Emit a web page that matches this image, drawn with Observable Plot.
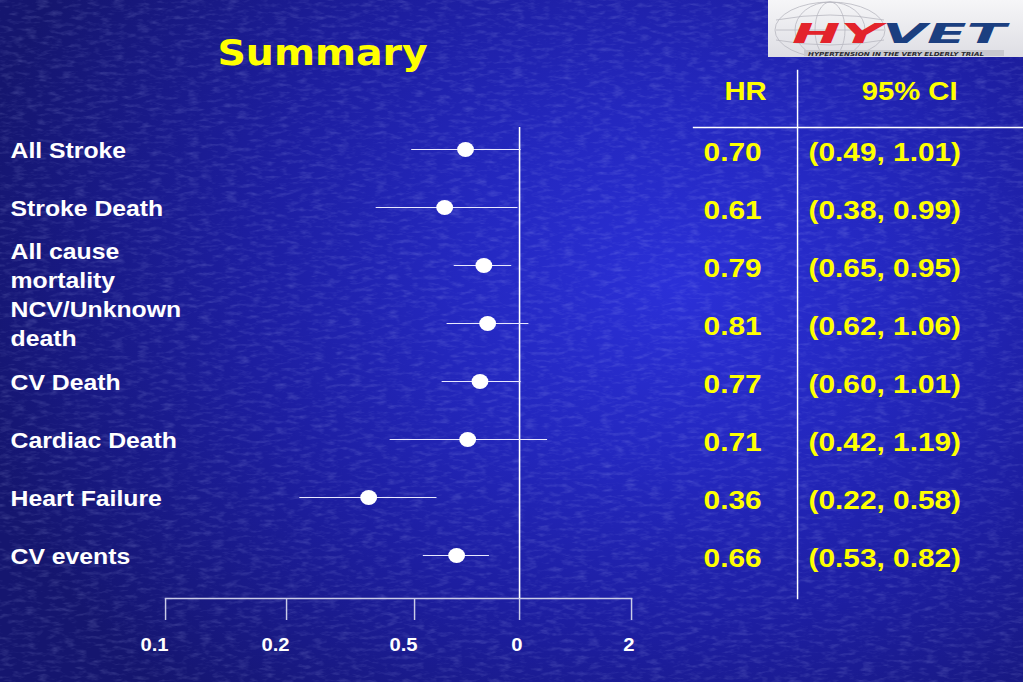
<!DOCTYPE html>
<html><head><meta charset="utf-8">
<script src="https://cdn.jsdelivr.net/npm/d3@7"></script>
<script src="https://cdn.jsdelivr.net/npm/@observablehq/plot@0.6"></script>
<style>
html,body{margin:0;padding:0;width:1023px;height:682px;overflow:hidden;}
body{position:relative;background:radial-gradient(ellipse 70% 85% at 66% 42%, #2b30d8 0%, #2428c0 30%, #1d1ea0 60%, #15166f 100%);font-family:"Liberation Sans",Arial,sans-serif;}
#tex{position:absolute;left:0;top:0;}
#chart{position:absolute;left:0;top:0;}
#logo{position:absolute;left:768px;top:0;width:255px;height:57px;}
</style></head><body>
<svg id="tex" width="1023" height="682"><filter id="n"><feTurbulence type="fractalNoise" baseFrequency="0.08 0.25" numOctaves="3" seed="4"/><feColorMatrix type="matrix" values="0 0 0 0 0.55  0 0 0 0 0.6  0 0 0 0 1  1.6 0 0 0 -0.75"/></filter><rect width="1023" height="682" filter="url(#n)" opacity="0.25"/></svg>
<div id="chart"></div>
<svg id="logo" width="255" height="57">
  <defs><linearGradient id="lg" x1="0" y1="0" x2="0" y2="1"><stop offset="0" stop-color="#f6f6f8"/><stop offset="1" stop-color="#dedee4"/></linearGradient></defs>
  <rect width="255" height="57" fill="url(#lg)"/>
  <g fill="none" stroke="#b8b8c0" stroke-width="0.8">
    <ellipse cx="62" cy="30" rx="55" ry="28"/>
    <ellipse cx="62" cy="30" rx="35" ry="28"/>
    <ellipse cx="62" cy="30" rx="15" ry="28"/>
    <path d="M8 20 Q62 10 116 20 M8 40 Q62 50 116 40 M8 30 L116 30"/>
  </g>
  <text x="24" y="43" font-family="DejaVu Sans" font-size="26" font-weight="bold" font-style="italic" textLength="214" lengthAdjust="spacingAndGlyphs"><tspan fill="#e3232b">HY</tspan><tspan fill="#1b3f80">VET</tspan></text>
  <rect x="36" y="50" width="200" height="6" fill="#c8c8ce"/>
  <text x="40" y="55.6" font-family="DejaVu Sans" font-size="5.5" font-weight="bold" font-style="italic" fill="#2a2a30" textLength="176" lengthAdjust="spacingAndGlyphs">HYPERTENSION IN THE VERY ELDERLY TRIAL</text>
</svg>
<script>
// ---- data ----
const outcomes = ["All Stroke", "Stroke Death", "All cause mortality", "NCV/Unknown death", "CV Death", "Cardiac Death", "Heart Failure", "CV events"];
const outcomeLabels = ["All Stroke", "Stroke Death", "All cause\nmortality", "NCV/Unknown\ndeath", "CV Death", "Cardiac Death", "Heart Failure", "CV events"];
const hr = [0.70, 0.61, 0.79, 0.81, 0.77, 0.71, 0.36, 0.66];
const ciLow = [0.49, 0.38, 0.65, 0.62, 0.60, 0.42, 0.22, 0.53];
const ciHigh = [1.01, 0.99, 0.95, 1.06, 1.01, 1.19, 0.58, 0.82];
const tickValues = [0.1, 0.2, 0.5, 1, 2];
const tickLabels = ["0.1", "0.2", "0.5", "0", "2"];
const headers = ["HR", "95% CI"];
const title = "Summary";

const rows = outcomes.map((o, i) => ({
  o, label: outcomeLabels[i], hr: hr[i], lo: ciLow[i], hi: ciHigh[i],
  hrText: hr[i].toFixed(2),
  ciText: `(${ciLow[i].toFixed(2)}, ${ciHigh[i].toFixed(2)})`
}));

// The slide is a 4:3 layout shown stretched to 1023 wide: draw at W and stretch.
const W = 909, H = 682, S = 1023 / W;
const px = v => v / S;
const xr = [165, 286, 414, 519, 631].map(px);
const yellow = "#ffff00";
const axisCol = "#c9cbe8";

const svg = Plot.plot({
  width: W, height: H,
  marginLeft: xr[0], marginRight: W - xr[4], marginTop: 127, marginBottom: H - 598,
  x: {type: "log", domain: tickValues, range: xr},
  y: {type: "point", domain: outcomes, range: [147, 557], padding: 0, axis: null},
  style: {background: "transparent", color: "white", fontFamily: "'Liberation Sans', Arial, sans-serif", overflow: "visible"},
  marks: [
    Plot.frame({anchor: "bottom", stroke: axisCol, strokeWidth: 1.3}),
    Plot.axisX(tickValues, {anchor: "bottom", tickSize: 22, fill: "none", stroke: axisCol, strokeWidth: 1.3, label: null}),
    Plot.text(tickValues, {x: d => d, text: (d, i) => tickLabels[i], frameAnchor: "bottom", lineAnchor: "middle", dy: 47, dx: px(3), textAnchor: "end", fill: "white", fontSize: 18, fontWeight: "bold"}),
    Plot.ruleX([1], {stroke: "white", strokeWidth: 1.4}),
    Plot.ruleY(rows, {y: "o", x1: "lo", x2: "hi", stroke: "#e8e8ff", strokeWidth: 1.2}),
    Plot.dot(rows, {x: "hr", y: "o", r: 7.5, fill: "white", stroke: null}),
    Plot.text(rows, {y: "o", text: "label", frameAnchor: "left", lineAnchor: "middle", dx: px(10 - 165), dy: -1, textAnchor: "start", fill: "white", fontSize: 22, fontWeight: "bold", lineHeight: 1.3}),
    // table
    Plot.frame({anchor: "top", insetLeft: px(693 - 165), insetRight: -px(1023 - 631), stroke: "white", strokeWidth: 1.3}),
    Plot.frame({anchor: "right", insetRight: -px(797 - 631), insetTop: -(127 - 70), stroke: "white", strokeWidth: 1.3}),
    Plot.text([headers[0]], {text: d => d, frameAnchor: "top-right", lineAnchor: "middle", dx: px(745 - 631), dy: 91 - 127, textAnchor: "middle", fill: yellow, fontSize: 26, fontWeight: "bold"}),
    Plot.text([headers[1]], {text: d => d, frameAnchor: "top-right", lineAnchor: "middle", dx: px(909 - 631), dy: 91 - 127, textAnchor: "middle", fill: yellow, fontSize: 26, fontWeight: "bold"}),
    Plot.text(rows, {y: "o", text: "hrText", frameAnchor: "right", lineAnchor: "middle", dx: px(703 - 631), dy: 3, textAnchor: "start", fill: yellow, fontSize: 26.5, fontWeight: "bold"}),
    Plot.text(rows, {y: "o", text: "ciText", frameAnchor: "right", lineAnchor: "middle", dx: px(808 - 631), dy: 3, textAnchor: "start", fill: yellow, fontSize: 26.5, fontWeight: "bold"}),
    Plot.text([title], {text: d => d, frameAnchor: "top-left", lineAnchor: "middle", dx: px(322 - 165), dy: 53 - 127, textAnchor: "middle", fill: yellow, fontSize: 35, fontWeight: "bold", fontFamily: "DejaVu Sans"})
  ]
});
svg.setAttribute("width", 1023);
svg.setAttribute("height", 682);
svg.setAttribute("viewBox", `0 0 ${W} ${H}`);
svg.setAttribute("preserveAspectRatio", "none");
svg.style.maxWidth = "none";
svg.style.width = "1023px";
svg.style.height = "682px";
document.getElementById("chart").appendChild(svg);
</script>
</body></html>
